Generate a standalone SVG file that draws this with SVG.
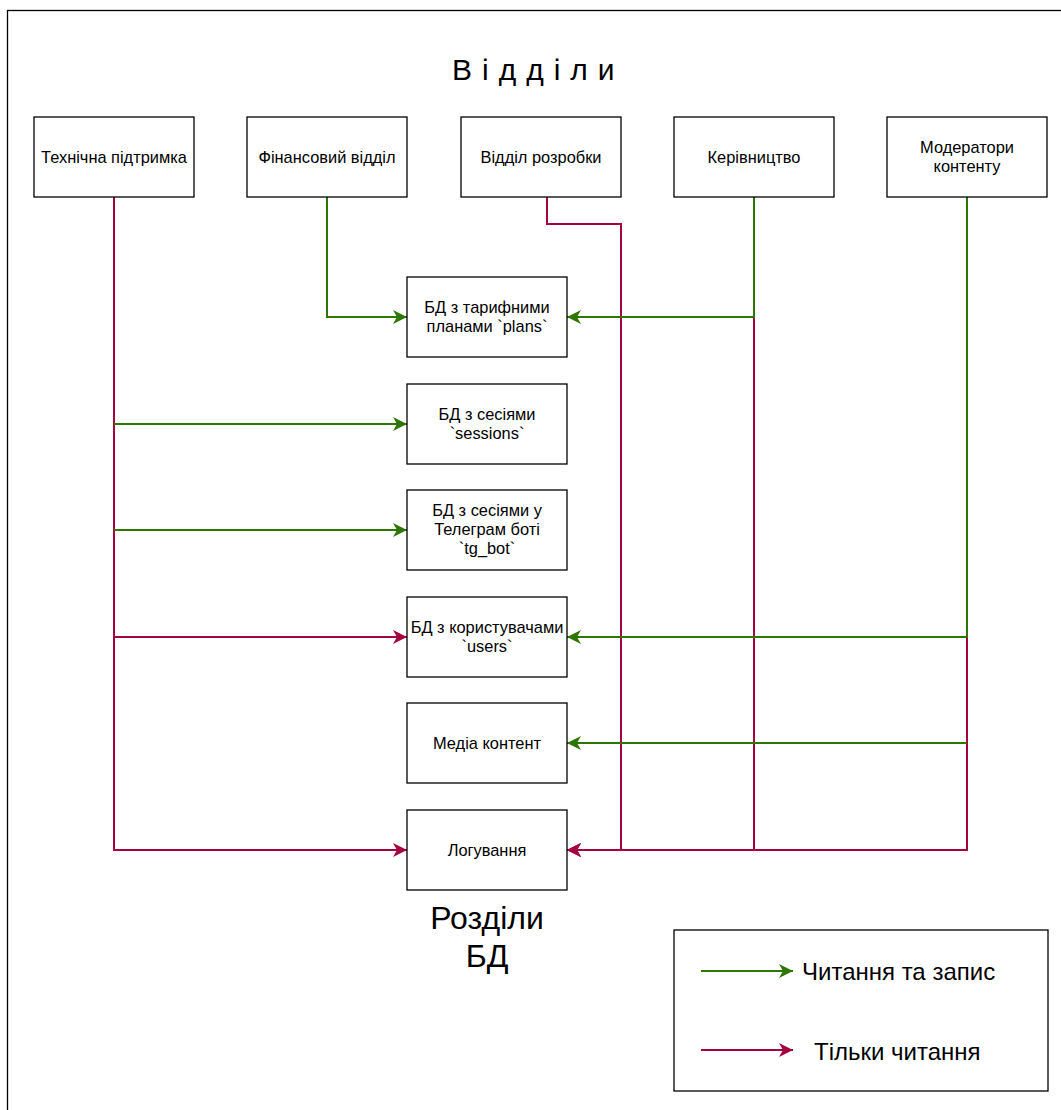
<svg xmlns="http://www.w3.org/2000/svg" width="1061" height="1110" viewBox="0 0 1061 1110">
<style>
.box{fill:#fff;stroke:#000;stroke-width:1.3}
.t{font-family:"Liberation Sans",Arial,sans-serif;font-size:16.4px;fill:#000;text-anchor:middle}
.g{fill:none;stroke:#2D7600;stroke-width:2}
.r{fill:none;stroke:#A50040;stroke-width:2}
.big{font-family:"Liberation Sans",Arial,sans-serif;fill:#000}
</style>
<defs>
<marker id="ag" markerUnits="userSpaceOnUse" markerWidth="16" markerHeight="16" refX="14" refY="8" orient="auto" viewBox="0 0 16 16">
<path d="M0,1 L14,8 L0,15 L4,8 Z" fill="#2D7600"/>
</marker>
<marker id="ar" markerUnits="userSpaceOnUse" markerWidth="16" markerHeight="16" refX="14" refY="8" orient="auto" viewBox="0 0 16 16">
<path d="M0,1 L14,8 L0,15 L4,8 Z" fill="#A50040"/>
</marker>
</defs>
<rect x="7.5" y="10.5" width="1100" height="1150" fill="#fff" stroke="#000" stroke-width="1.3"/>
<text class="big" x="452" y="80" font-size="30" letter-spacing="10">Відділи</text>
<g id="connectors">
<path class="r" d="M114,197 V850 H407" marker-end="url(#ar)"/>
<path class="r" d="M114,637 H407" marker-end="url(#ar)"/>
<path class="r" d="M547,197 V224 H621 V850 H567" marker-end="url(#ar)"/>
<path class="r" d="M754,317 V850 H567" marker-end="url(#ar)"/>
<path class="r" d="M967,637 V850 H567" marker-end="url(#ar)"/>
<path class="g" d="M327,197 V317 H407" marker-end="url(#ag)"/>
<path class="g" d="M754,197 V317 H567" marker-end="url(#ag)"/>
<path class="g" d="M114,424 H407" marker-end="url(#ag)"/>
<path class="g" d="M114,530 H407" marker-end="url(#ag)"/>
<path class="g" d="M967,197 V637 H567" marker-end="url(#ag)"/>
<path class="g" d="M967,743 H567" marker-end="url(#ag)"/>
</g>
<g id="n-tech"><rect class="box" x="34" y="117" width="160" height="80"/><text class="t" x="114" y="162.5">Технічна підтримка</text></g>
<g id="n-fin"><rect class="box" x="247" y="117" width="160" height="80"/><text class="t" x="327" y="162.5">Фінансовий відділ</text></g>
<g id="n-dev"><rect class="box" x="461" y="117" width="160" height="80"/><text class="t" x="541" y="162.5">Відділ розробки</text></g>
<g id="n-mgmt"><rect class="box" x="674" y="117" width="160" height="80"/><text class="t" x="754" y="162.5">Керівництво</text></g>
<g id="n-mod"><rect class="box" x="887" y="117" width="160" height="80"/><text class="t" x="967" y="153">Модератори</text><text class="t" x="967" y="172">контенту</text></g>
<g id="db-plans"><rect class="box" x="407" y="277" width="160" height="80"/><text class="t" x="487" y="313">БД з тарифними</text><text class="t" x="487" y="332">планами `plans`</text></g>
<g id="db-sessions"><rect class="box" x="407" y="384" width="160" height="80"/><text class="t" x="487" y="420">БД з сесіями</text><text class="t" x="487" y="439">`sessions`</text></g>
<g id="db-tg"><rect class="box" x="407" y="490" width="160" height="80"/><text class="t" x="487" y="516">БД з сесіями у</text><text class="t" x="487" y="535">Телеграм боті</text><text class="t" x="487" y="554">`tg_bot`</text></g>
<g id="db-users"><rect class="box" x="407" y="597" width="160" height="80"/><text class="t" x="487" y="633">БД з користувачами</text><text class="t" x="487" y="652">`users`</text></g>
<g id="db-media"><rect class="box" x="407" y="703" width="160" height="80"/><text class="t" x="487" y="748.5">Медіа контент</text></g>
<g id="db-log"><rect class="box" x="407" y="810" width="160" height="80"/><text class="t" x="487" y="855.5">Логування</text></g>
<text class="big" x="487" y="929" font-size="32" text-anchor="middle">Розділи</text>
<text class="big" x="487" y="967" font-size="32" text-anchor="middle">БД</text>
<g id="legend">
<rect class="box" x="674" y="930" width="374" height="161"/>
<path class="g" d="M701,971 H793" marker-end="url(#ag)"/>
<path class="r" d="M701,1050 H793" marker-end="url(#ar)"/>
<text class="big" x="802" y="980" font-size="24">Читання та запис</text>
<text class="big" x="814" y="1060" font-size="24">Тільки читання</text>
</g>
</svg>
